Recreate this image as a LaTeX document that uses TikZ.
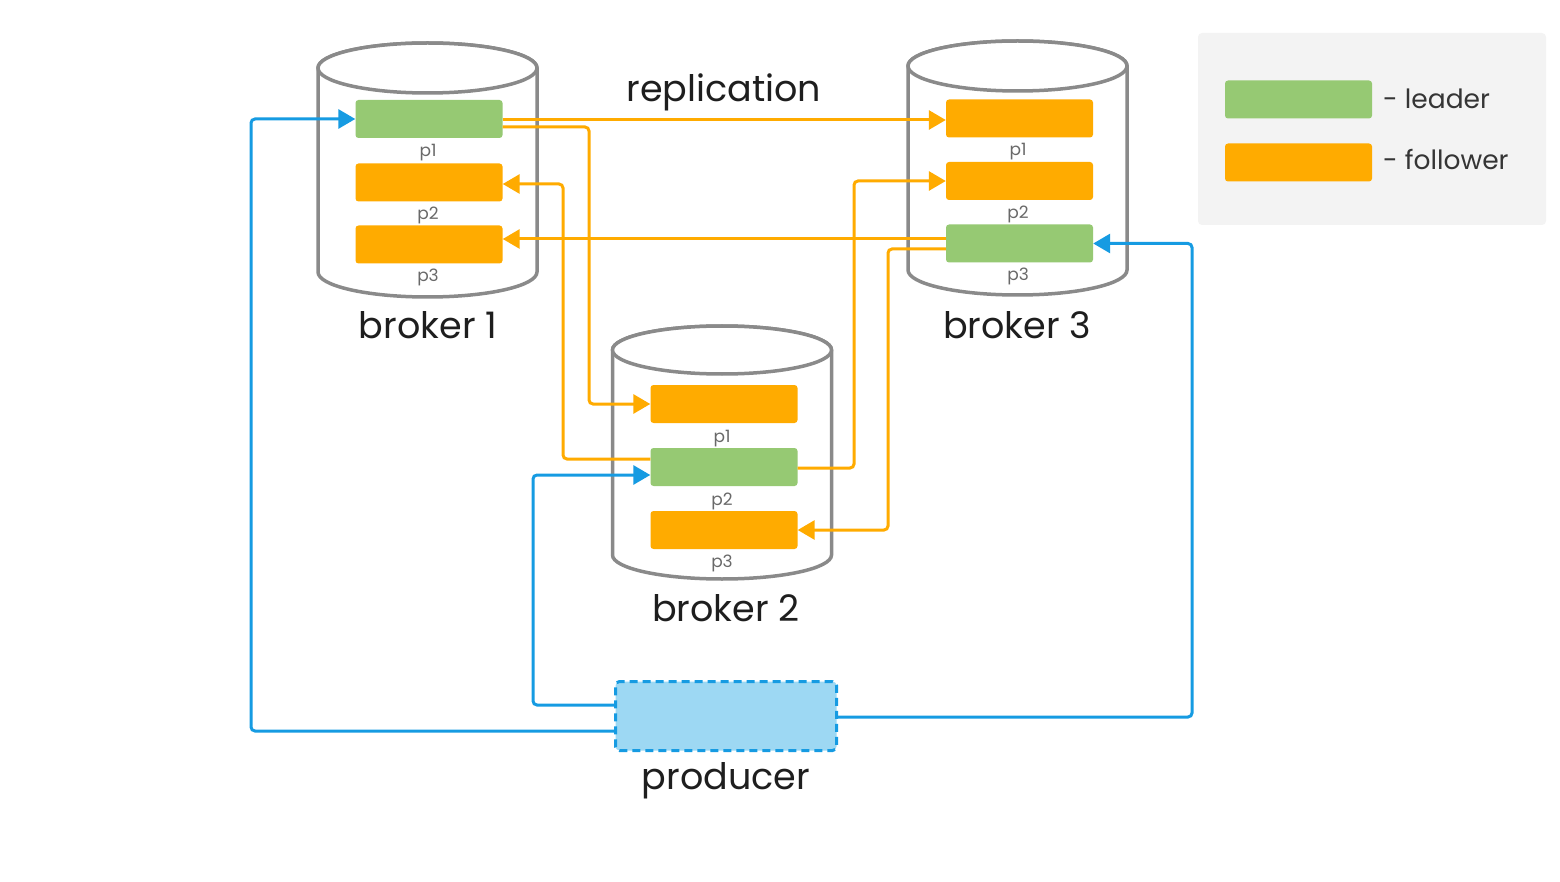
\documentclass[tikz,border=0pt]{standalone}
\usepackage{fontspec}
\setmainfont{Poppins}
\usetikzlibrary{arrows.meta,calc}
\definecolor{leadg}{RGB}{150,201,115}
\definecolor{follo}{RGB}{255,171,0}
\definecolor{blu}{RGB}{22,155,226}
\definecolor{prodf}{RGB}{157,216,243}
\definecolor{cylg}{RGB}{138,138,138}
\definecolor{legbg}{RGB}{243,243,243}
\definecolor{txt}{RGB}{30,30,30}
\definecolor{plab}{RGB}{105,105,105}
\tikzset{
  part/.style={draw=none,rounded corners=3pt,minimum width=147pt,minimum height=38pt,inner sep=0pt},
  lead/.style={part,fill=leadg},
  foll/.style={part,fill=follo},
  plabel/.style={font=\fontsize{17}{17}\selectfont,text=plab,anchor=base,inner sep=0pt},
  biglabel/.style={font=\fontsize{36.5}{36.5}\selectfont,text=txt,anchor=base,inner sep=0pt},
  leglabel/.style={font=\fontsize{26.5}{26.5}\selectfont,text=txt!90,anchor=base west,inner sep=0pt},
  repl/.style={draw=follo,line width=3pt,rounded corners=4pt},
  prod/.style={draw=blu,line width=3pt,rounded corners=4pt},
  tip/.style={-{Triangle[length=17pt,width=19pt]}},
  cyl/.style={draw=cylg,line width=3.5pt,fill=white}
}
\newcommand\drawcyl[4]{% cx, top cy, bottom cy, ry
  \path[cyl] (#1-109.5,#2) -- (#1-109.5,#3) arc[start angle=180,end angle=360,x radius=109.5pt,y radius=#4pt] -- (#1+109.5,#2) arc[start angle=0,end angle=180,x radius=109.5pt,y radius=#4pt] -- cycle;
  \path[cyl] (#1,#2) ellipse[x radius=109.5pt,y radius=#4pt];
}
\begin{document}
\begin{tikzpicture}[x=1pt,y=-1pt]
\useasboundingbox (0,0) rectangle (1560,882);
% legend
\node[fill=legbg,rounded corners=4pt,minimum width=348pt,minimum height=192pt,inner sep=0pt] (legend) at (1372,129) {};
\node[lead] (lg) at (1298.5,99.5) {};
\node[foll] (lf) at (1298.5,162.5) {};
\node[leglabel] (lgt) at (1383,109) {- leader};
\node[leglabel] (lft) at (1383,170) {- follower};
% cylinders
\drawcyl{427.5}{68}{272}{25}
\drawcyl{1017.5}{66}{270}{25}
\drawcyl{722}{350}{555}{24}
% broker 1
\node[lead] (b1p1) at (429,119) {};
\node[foll] (b1p2) at (429,182.5) {};
\node[foll] (b1p3) at (429,244.5) {};
\node[plabel] (b1l1) at (428,157) {p1};
\node[plabel] (b1l2) at (428,220) {p2};
\node[plabel] (b1l3) at (428,282) {p3};
\node[biglabel] (b1) at (428,338) {broker 1};
% broker 3
\node[foll] (b3p1) at (1019.5,118.5) {};
\node[foll] (b3p2) at (1019.5,181) {};
\node[lead] (b3p3) at (1019.5,243.5) {};
\node[plabel] (b3l1) at (1018,156) {p1};
\node[plabel] (b3l2) at (1018,219) {p2};
\node[plabel] (b3l3) at (1018,281) {p3};
\node[biglabel] (b3) at (1017,338) {broker 3};
% broker 2
\node[foll] (b2p1) at (724,404) {};
\node[lead] (b2p2) at (724,467) {};
\node[foll] (b2p3) at (724,530) {};
\node[plabel] (b2l1) at (722,442) {p1};
\node[plabel] (b2l2) at (722,505) {p2};
\node[plabel] (b2l3) at (722,567) {p3};
\node[biglabel] (b2) at (726,621) {broker 2};
% producer
\node[draw=blu,fill=prodf,line width=3pt,dash pattern=on 8pt off 5pt,rounded corners=4pt,minimum width=221pt,minimum height=69pt,inner sep=0pt] (producer) at (726,716) {};
\node[biglabel] (prodl) at (726,789) {producer};
\node[biglabel] (repll) at (724,102) {replication};
% vertical routing coordinates
\coordinate (vb) at (589,0);
\coordinate (vc) at (563,0);
\coordinate (vd) at (854,0);
\coordinate (vf) at (888,0);
\coordinate (u1) at (251,0);
\coordinate (u2) at (533,0);
\coordinate (u3) at (1192,0);
% replication connectors
\coordinate (sa) at ($(b1p1.east)+(0,1)$);
\draw[repl,tip] (sa) -- (sa -| b3p1.west);
\coordinate (sb) at ($(b1p1.east)+(0,8)$);
\draw[repl,tip] (sb) -- (sb -| vb) -- (vb |- b2p1.west) -- (b2p1.west);
\coordinate (sc) at ($(b2p2.west)+(0,-8)$);
\coordinate (ec) at ($(b1p2.east)+(0,1.5)$);
\draw[repl,tip] (sc) -- (sc -| vc) -- (vc |- ec) -- (ec);
\coordinate (sd) at ($(b2p2.east)+(0,1)$);
\draw[repl,tip] (sd) -- (sd -| vd) -- (vd |- b3p2.west) -- (b3p2.west);
\coordinate (se) at ($(b3p3.west)+(0,-4.5)$);
\draw[repl,tip] (se) -- (se -| b1p3.east);
\coordinate (sf) at ($(b3p3.west)+(0,5.5)$);
\draw[repl,tip] (sf) -- (sf -| vf) -- (vf |- b2p3.east) -- (b2p3.east);
% producer connectors
\coordinate (s1) at ($(producer.west)+(0,15)$);
\draw[prod,tip] (s1) -- (s1 -| u1) -- (u1 |- b1p1.west) -- (b1p1.west);
\coordinate (s2) at ($(producer.west)+(0,-11)$);
\coordinate (e2) at ($(b2p2.west)+(0,8)$);
\draw[prod,tip] (s2) -- (s2 -| u2) -- (u2 |- e2) -- (e2);
\coordinate (s3) at ($(producer.east)+(0,1)$);
\draw[prod,tip] (s3) -- (s3 -| u3) -- (u3 |- b3p3.east) -- (b3p3.east);
\end{tikzpicture}
\end{document}
